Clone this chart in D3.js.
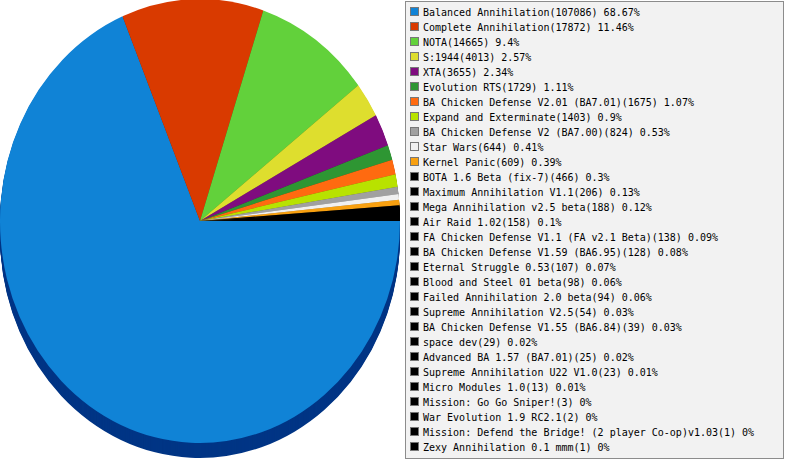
<!DOCTYPE html>
<html>
<head>
<meta charset="utf-8">
<script src="https://cdn.jsdelivr.net/npm/d3@7"></script>
<style>
  body { margin: 0; background: #fff; }
  svg { display: block; }
</style>
</head>
<body>
<svg id="chart" width="785" height="460"></svg>
<script>
const names = [
    "Balanced Annihilation", "Complete Annihilation", "NOTA", "S:1944", "XTA",
    "Evolution RTS", "BA Chicken Defense V2.01 (BA7.01)", "Expand and Exterminate",
    "BA Chicken Defense V2 (BA7.00)", "Star Wars", "Kernel Panic", "BOTA 1.6 Beta (fix-7)",
    "Maximum Annihilation V1.1", "Mega Annihilation v2.5 beta", "Air Raid 1.02",
    "FA Chicken Defense V1.1 (FA v2.1 Beta)", "BA Chicken Defense V1.59 (BA6.95)",
    "Eternal Struggle 0.53", "Blood and Steel 01 beta", "Failed Annihilation 2.0 beta",
    "Supreme Annihilation V2.5", "BA Chicken Defense V1.55 (BA6.84)", "space dev",
    "Advanced BA 1.57 (BA7.01)", "Supreme Annihilation U22 V1.0", "Micro Modules 1.0",
    "Mission: Go Go Sniper!", "War Evolution 1.9 RC2.1",
    "Mission: Defend the Bridge! (2 player Co-op)v1.03", "Zexy Annihilation 0.1 mmm"
];
const counts = [107086, 17872, 14665, 4013, 3655, 1729, 1675, 1403, 824, 644, 609, 466,
    206, 188, 158, 138, 128, 107, 98, 94, 54, 39, 29, 25, 23, 13, 3, 2, 1, 1];
const percents = ["68.67", "11.46", "9.4", "2.57", "2.34", "1.11", "1.07", "0.9", "0.53",
    "0.41", "0.39", "0.3", "0.13", "0.12", "0.1", "0.09", "0.08", "0.07", "0.06", "0.06",
    "0.03", "0.03", "0.02", "0.02", "0.01", "0.01", "0", "0", "0", "0"];
const colors = ["#1083d6", "#d93a00", "#62d13b", "#dede2e", "#7f0c7f", "#2e9633",
    "#ff6a10", "#b8e200", "#a0a0a0", "#f0f0f0", "#f8a010"];
const sideColors = ["#003585", "#7a2000", "#2f7a1a", "#85851a", "#4a004a", "#15561a",
    "#993c05", "#6a8200", "#5a5a5a", "#909090", "#8f5a05"];

const pie = { cx: 200, cy: 221, rx: 200, ry: 222, depth: 15 };
const legend = { x: 405, y: 1, w: 378, h: 457, rowH: 15, top: 12 };

const svg = d3.select("#chart");
const color = i => i < colors.length ? colors[i] : "#000000";
const sideColor = i => i < sideColors.length ? sideColors[i] : "#000000";

// start at 3 o'clock, run clockwise
const arcs = d3.pie().sort(null).value(d => d)
    .startAngle(Math.PI / 2).endAngle(Math.PI / 2 + 2 * Math.PI)(counts);
const arc = d3.arc().innerRadius(0).outerRadius(pie.rx);
const yScale = pie.ry / pie.rx;

// extruded side: stacked copies of the slices, darker
const side = svg.append("g");
d3.range(pie.depth, 0, -1).forEach(off => {
    side.append("g")
        .attr("transform", `translate(${pie.cx},${pie.cy + off}) scale(1,${yScale})`)
        .selectAll("path")
        .data(arcs)
        .join("path")
        .attr("d", arc)
        .attr("fill", (d, i) => sideColor(i));
});

svg.append("g")
    .attr("transform", `translate(${pie.cx},${pie.cy}) scale(1,${yScale})`)
    .selectAll("path")
    .data(arcs)
    .join("path")
    .attr("d", arc)
    .attr("fill", (d, i) => color(i));

// legend
const lg = svg.append("g");
lg.append("rect")
    .attr("x", legend.x + 0.5).attr("y", legend.y + 0.5)
    .attr("width", legend.w).attr("height", legend.h)
    .attr("fill", "#f2f2f2").attr("stroke", "#8c8c8c");

const rows = lg.selectAll("g.row")
    .data(names)
    .join("g")
    .attr("class", "row")
    .attr("transform", (d, i) => `translate(${legend.x + 5},${legend.top + i * legend.rowH})`);

rows.append("rect")
    .attr("x", 0.5).attr("y", -4.5)
    .attr("width", 8).attr("height", 8)
    .attr("fill", (d, i) => color(i))
    .attr("stroke", "#777");

rows.append("text")
    .attr("x", 13).attr("y", 4)
    .attr("font-family", "DejaVu Sans Mono")
    .attr("font-size", "10px")
    .attr("fill", "#000")
    .text((d, i) => `${d}(${counts[i]}) ${percents[i]}%`);
</script>
</body>
</html>
